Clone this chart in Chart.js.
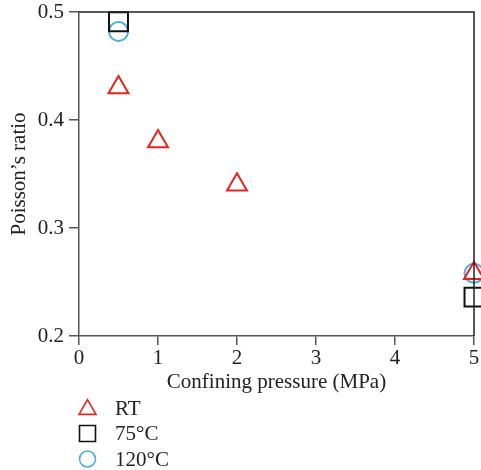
<!DOCTYPE html>
<html><head><meta charset="utf-8">
<script src="https://cdn.jsdelivr.net/npm/chart.js@4.4.1/dist/chart.umd.min.js"></script>
<style>html,body{margin:0;padding:0;background:#fff}#wrap{width:481px;height:470px}</style>
</head><body><div id="wrap"><canvas id="c" width="481" height="470"></canvas></div>
<script>
const seriesNames = ['RT', '75°C', '120°C'];
const rtX = [0.5, 1, 2, 5];
const rtY = [0.43, 0.38, 0.34, 0.258];
const t75X = [0.5, 5];
const t75Y = [0.491, 0.236];
const t120X = [0.5, 5];
const t120Y = [0.482, 0.258];
const xTicks = [0, 1, 2, 3, 4, 5];
const yTicks = [0.2, 0.3, 0.4, 0.5];
const xTitle = 'Confining pressure (MPa)';
const yTitle = 'Poisson\u2019s ratio';

const FONT = '"Liberation Serif", "DejaVu Serif", serif';
const RED = '#e5231f', BLACK = '#111111', BLUE = '#4caee2';

function pts(xs, ys) { return xs.map((x, i) => ({x: x, y: ys[i]})); }

const styles = [
  {style: 'triangle', color: RED, r: 11.5, lr: 9.8},
  {style: 'rect', color: BLACK, r: 13.4, lr: 11.3},
  {style: 'circle', color: BLUE, r: 9.5, lr: 8}
];
const dataSets = [pts(rtX, rtY), pts(t75X, t75Y), pts(t120X, t120Y)];

const frame = {
  id: 'frame',
  afterDatasetsDraw(chart) {
    const {ctx, chartArea: a} = chart;
    ctx.save();
    ctx.strokeStyle = '#222';
    ctx.lineWidth = 1.5;
    ctx.beginPath();
    ctx.moveTo(a.left, a.top);
    ctx.lineTo(a.right, a.top);
    ctx.lineTo(a.right, a.bottom);
    ctx.stroke();
    ctx.restore();
  }
};

const vLegend = {
  id: 'vLegend',
  afterDraw(chart) {
    const ctx = chart.ctx;
    ctx.save();
    chart.data.datasets.forEach((ds, i) => {
      const y = 408 + i * 25.5;
      const cx = 87.5;
      ctx.strokeStyle = ds.borderColor;
      ctx.lineWidth = 1.6;
      ctx.beginPath();
      const r = ds.legendRadius;
      if (ds.pointStyle === 'triangle') {
        const h = r * 1.5, w = r * Math.sqrt(3);
        ctx.moveTo(cx, y - r * 0.85);
        ctx.lineTo(cx + w / 2, y - r * 0.85 + h);
        ctx.lineTo(cx - w / 2, y - r * 0.85 + h);
        ctx.closePath();
      } else if (ds.pointStyle === 'rect') {
        const s = r * Math.SQRT1_2;
        ctx.rect(cx - s, y - s, 2 * s, 2 * s);
      } else {
        ctx.arc(cx, y, r, 0, Math.PI * 2);
      }
      ctx.stroke();
      ctx.fillStyle = '#222';
      ctx.font = '21px ' + FONT;
      ctx.textBaseline = 'middle';
      ctx.textAlign = 'left';
      ctx.fillText(ds.label, 115, y + 1);
    });
    ctx.restore();
  }
};

new Chart(document.getElementById('c'), {
  type: 'scatter',
  data: {
    datasets: seriesNames.map((name, i) => ({
      label: name,
      data: dataSets[i],
      pointStyle: styles[i].style,
      pointRadius: styles[i].r,
      pointHoverRadius: styles[i].r,
      borderColor: styles[i].color,
      backgroundColor: 'rgba(0,0,0,0)',
      pointBorderWidth: 2,
      borderWidth: 2,
      legendRadius: styles[i].lr,
      clip: false
    }))
  },
  options: {
    responsive: false,
    animation: false,
    layout: {autoPadding: false, padding: {top: 12, right: 7, bottom: 75, left: 0}},
    plugins: {legend: {display: false}, tooltip: {enabled: false}},
    scales: {
      x: {
        type: 'linear', min: 0, max: 5,
        afterBuildTicks: s => { s.ticks = xTicks.map(v => ({value: v})); },
        afterFit: s => { s.height = 59; s.paddingLeft = 0; s.paddingRight = 0; },
        ticks: {font: {family: FONT, size: 21}, color: '#222', padding: 1, maxRotation: 0, callback: v => String(v)},
        grid: {drawOnChartArea: false, drawTicks: true, tickLength: 9, color: '#555', lineWidth: 1.5},
        border: {display: true, color: '#555', width: 1.5},
        title: {display: true, text: xTitle, font: {family: FONT, size: 21}, color: '#222', padding: {top: 0, bottom: 0}}
      },
      y: {
        type: 'linear', min: 0.2, max: 0.5,
        afterBuildTicks: s => { s.ticks = yTicks.map(v => ({value: v})); },
        afterFit: s => { s.width = 79; s.paddingTop = 0; s.paddingBottom = 0; },
        ticks: {font: {family: FONT, size: 21}, color: '#222', padding: 5, callback: v => Number(v).toFixed(1)},
        grid: {drawOnChartArea: false, drawTicks: true, tickLength: 10, color: '#555', lineWidth: 1.5},
        border: {display: true, color: '#555', width: 1.5},
        title: {display: true, text: yTitle, font: {family: FONT, size: 21}, color: '#222', padding: {top: 7, bottom: 0}}
      }
    }
  },
  plugins: [frame, vLegend]
});
</script>
</body></html>
